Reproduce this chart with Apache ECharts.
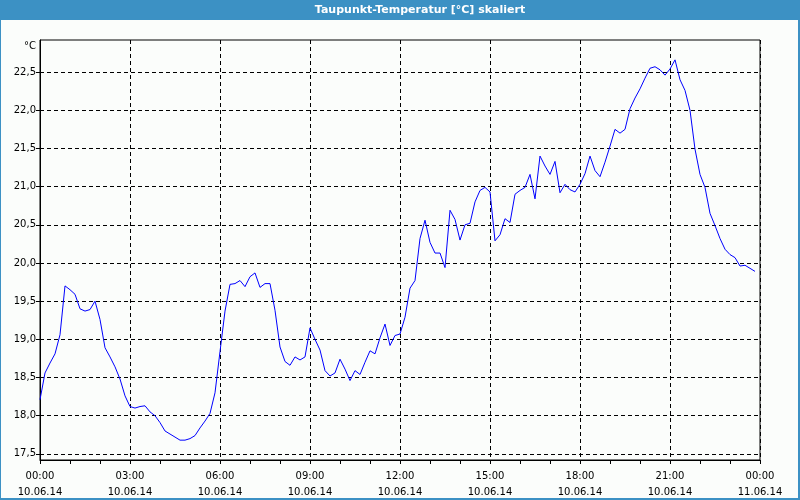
<!DOCTYPE html>
<html>
<head>
<meta charset="utf-8">
<script src="https://cdn.jsdelivr.net/npm/echarts@6/dist/echarts.min.js"></script>
<style>
html,body{margin:0;padding:0;background:#fbfdfb;}
#chart{width:800px;height:500px;}
</style>
</head>
<body>
<div id="chart"></div>
<script>
// Time in minutes after 10.06.14 00:00, one reading every 10 minutes
const minutes = Array.from({length: 144}, (_, i) => i * 10);
const dewPoint = [
  18.21, 18.56, 18.69, 18.81, 19.06, 19.70, 19.65, 19.59, 19.40, 19.37,
  19.39, 19.50, 19.26, 18.89, 18.77, 18.64, 18.48, 18.26, 18.12, 18.10,
  18.12, 18.13, 18.05, 18.00, 17.91, 17.80, 17.76, 17.72, 17.68, 17.68,
  17.70, 17.74, 17.84, 17.93, 18.03, 18.30, 18.84, 19.37, 19.72, 19.73,
  19.77, 19.69, 19.82, 19.87, 19.68, 19.73, 19.73, 19.38, 18.90, 18.71,
  18.66, 18.77, 18.73, 18.77, 19.15, 19.00, 18.86, 18.59, 18.52, 18.56,
  18.74, 18.61, 18.46, 18.59, 18.54, 18.70, 18.85, 18.81, 19.02, 19.20,
  18.92, 19.05, 19.07, 19.29, 19.67, 19.77, 20.32, 20.56, 20.27, 20.13,
  20.13, 19.94, 20.69, 20.57, 20.30, 20.50, 20.52, 20.80, 20.95, 20.99,
  20.93, 20.29, 20.37, 20.58, 20.53, 20.90, 20.95, 20.99, 21.16, 20.84,
  21.40, 21.27, 21.16, 21.33, 20.92, 21.03, 20.96, 20.93, 21.03, 21.17,
  21.40, 21.21, 21.13, 21.32, 21.53, 21.75, 21.70, 21.75, 22.02, 22.16,
  22.28, 22.42, 22.55, 22.57, 22.53, 22.46, 22.54, 22.66, 22.40, 22.26,
  22.00, 21.49, 21.16, 20.99, 20.65, 20.49, 20.32, 20.18, 20.11, 20.07,
  19.96, 19.97, 19.93, 19.89
];
const yTicks = [17.5, 18.0, 18.5, 19.0, 19.5, 20.0, 20.5, 21.0, 21.5, 22.0, 22.5];
const xTickTimes = ['00:00','03:00','06:00','09:00','12:00','15:00','18:00','21:00','00:00'];
const xTickDates = ['10.06.14','10.06.14','10.06.14','10.06.14','10.06.14','10.06.14','10.06.14','10.06.14','11.06.14'];
const titleText = 'Taupunkt-Temperatur [°C] skaliert';
const unitText = '°C';

const seriesData = minutes.map((m, i) => [m, dewPoint[i]]);
const font = 'DejaVu Sans, Verdana, sans-serif';
const blue = '#3c91c4';

const chart = echarts.init(document.getElementById('chart'), null, {renderer: 'canvas'});
chart.setOption({
  animation: false,
  backgroundColor: '#fbfdfb',
  graphic: [
    {type: 'rect', shape: {x: 0, y: 0, width: 800, height: 20}, style: {fill: blue}, silent: true},
    {type: 'rect', shape: {x: 0, y: 0, width: 1, height: 500}, style: {fill: blue}, silent: true},
    {type: 'rect', shape: {x: 798, y: 0, width: 2, height: 500}, style: {fill: blue}, silent: true},
    {type: 'rect', shape: {x: 0, y: 498, width: 800, height: 2}, style: {fill: blue}, silent: true},
    {type: 'text', x: 420, y: 10, style: {text: titleText, fill: '#ffffff', font: 'bold 11px ' + font, align: 'center', verticalAlign: 'middle'}, silent: true},
    {type: 'text', x: 36, y: 46, style: {text: unitText, fill: '#000000', font: '10px ' + font, align: 'right', verticalAlign: 'middle'}, silent: true}
  ],
  grid: {left: 40, right: 40, top: 40, bottom: 40, show: true, borderColor: '#000', borderWidth: 1, backgroundColor: 'transparent'},
  xAxis: {
    type: 'value',
    min: 0, max: 1440, interval: 180,
    axisLine: {show: true, lineStyle: {color: '#000', width: 1}},
    axisTick: {show: true, length: 4, lineStyle: {color: '#000'}},
    minorTick: {show: true, splitNumber: 3, length: 4, lineStyle: {color: '#000'}},
    splitLine: {show: true, lineStyle: {color: '#000', type: [4, 3], width: 1}},
    axisLabel: {
      color: '#000', fontFamily: font, fontSize: 10, lineHeight: 16, margin: 8,
      formatter: function (v) {
        const i = Math.round(v / 180);
        return xTickTimes[i] + '\n' + xTickDates[i];
      }
    }
  },
  yAxis: {
    type: 'value',
    min: 17.42, max: 22.92,
    axisLine: {show: true, lineStyle: {color: '#000', width: 1}},
    axisTick: {show: true, length: 5, customValues: yTicks, lineStyle: {color: '#000', type: [4, 3]}},
    splitLine: {show: true, lineStyle: {color: '#000', type: [4, 3], width: 1}},
    axisLabel: {
      color: '#000', fontFamily: font, fontSize: 10, margin: 4,
      customValues: yTicks,
      formatter: function (v) { return v.toFixed(1).replace('.', ','); }
    }
  },
  series: [{
    type: 'line',
    data: seriesData,
    showSymbol: false,
    symbol: 'none',
    smooth: false,
    lineStyle: {color: '#0000ff', width: 1},
    itemStyle: {color: '#0000ff'}
  }]
});
</script>
</body>
</html>
